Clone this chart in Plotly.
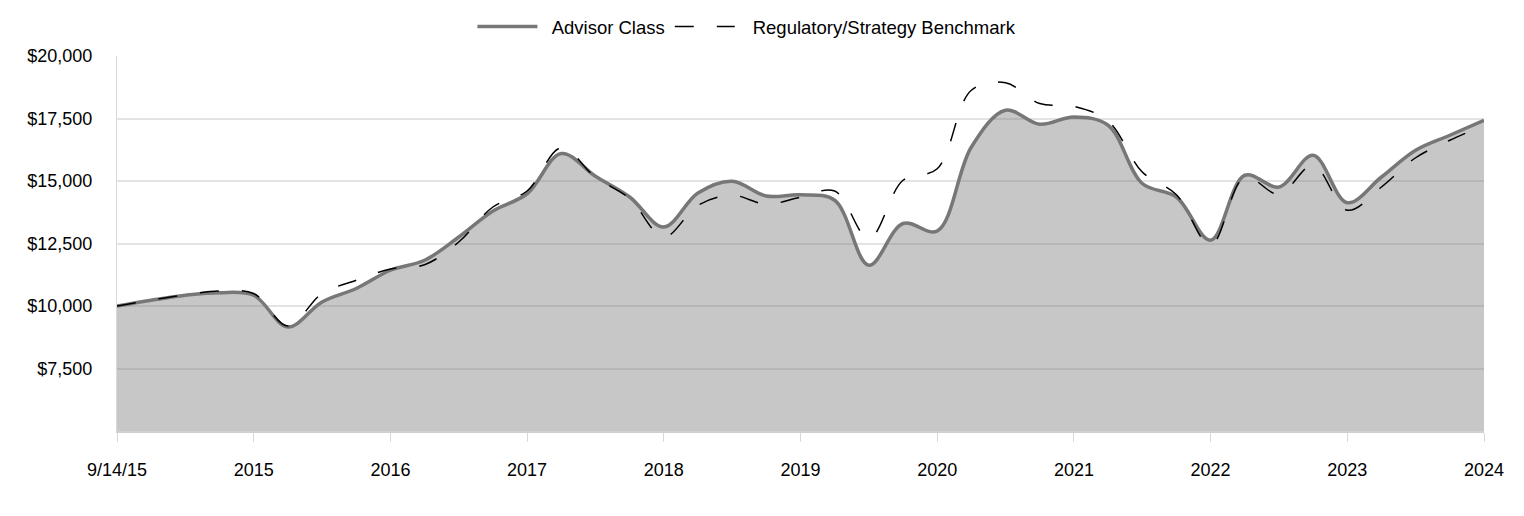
import plotly.graph_objects as go

# Quarterly observations (41 points), labels shown at every 4th point
tick_labels = ["9/14/15", "2015", "2016", "2017", "2018", "2019",
               "2020", "2021", "2022", "2023", "2024"]

advisor_class = [10000, 10230, 10430, 10535, 10430, 9160, 10160, 10700, 11430, 11830,
                 12760, 13800, 14490, 16100, 15190, 14360, 13160, 14520, 14990, 14400,
                 14450, 14230, 11630, 13300, 13000, 16360, 17830, 17270, 17560, 17230,
                 14900, 14360, 12630, 15230, 14760, 16030, 14130, 15160, 16230, 16830,
                 17430]

benchmark = [10000, 10230, 10450, 10600, 10500, 9200, 10500, 11030, 11480, 11650,
             12560, 13960, 14600, 16330, 15150, 14300, 12760, 14030, 14430, 14070,
             14350, 14600, 12700, 15030, 15490, 18630, 18930, 18100, 17990, 17400,
             15360, 14450, 12430, 15160, 14470, 15630, 13830, 14760, 15930, 16630,
             17230]

y_ticks = [7500, 10000, 12500, 15000, 17500, 20000]

x = list(range(len(advisor_class)))
step = (len(x) - 1) // (len(tick_labels) - 1)
tick_pos = [i * step for i in range(len(tick_labels))]

font_family = "Liberation Sans, Arial, sans-serif"

fig = go.Figure()
# shaded area under the Advisor Class line (no legend entry)
fig.add_trace(go.Scatter(
    x=x, y=advisor_class, name="Advisor Class", showlegend=False,
    mode="lines", line=dict(color="rgba(0,0,0,0)", width=0, shape="spline", smoothing=1),
    fill="tozeroy", fillcolor="rgba(110,110,110,0.39)",
))
fig.add_trace(go.Scatter(
    x=x, y=advisor_class, name="\u2002Advisor Class",
    mode="lines", line=dict(color="#777777", width=3.5, shape="spline", smoothing=1),
))
fig.add_trace(go.Scatter(
    x=x, y=benchmark, name="\u2002\u2009Regulatory/Strategy Benchmark",
    mode="lines", line=dict(color="#000000", width=1.5, dash="19px,23px",
                            shape="spline", smoothing=1),
))

fig.update_layout(
    width=1524, height=516,
    margin=dict(l=109, r=48, t=48, b=93, autoexpand=False),
    paper_bgcolor="white", plot_bgcolor="white",
    font=dict(family=font_family, size=18, color="#000000"),
    showlegend=True,
    legend=dict(orientation="h", x=0.260, xanchor="left",
                yref="container", y=1 - 19 / 516, yanchor="middle",
                font=dict(size=18.5), itemwidth=60, traceorder="normal",
                bgcolor="rgba(0,0,0,0)"),
    hovermode=False,
)

fig.update_xaxes(
    range=[0, len(x) - 1], tickmode="array", tickvals=tick_pos, ticktext=tick_labels,
    showgrid=False, zeroline=False, automargin=False,
    showline=True, linecolor="#d0d0d0", linewidth=1.5,
    ticks="outside", ticklen=9, tickcolor="#d9d9d9", tickwidth=1,
    ticklabelstandoff=13, tickfont=dict(size=18),
)
fig.update_yaxes(
    range=[5000, 20000], tickmode="array", tickvals=y_ticks,
    ticktext=["${:,}".format(v) for v in y_ticks],
    showgrid=True, gridcolor="#e3e3e3", gridwidth=1.5, zeroline=False, automargin=False,
    showline=True, linecolor="#d9d9d9", linewidth=1,
    ticks="", ticklabelstandoff=20, tickfont=dict(size=18),
)

fig.write_html("out.html")
